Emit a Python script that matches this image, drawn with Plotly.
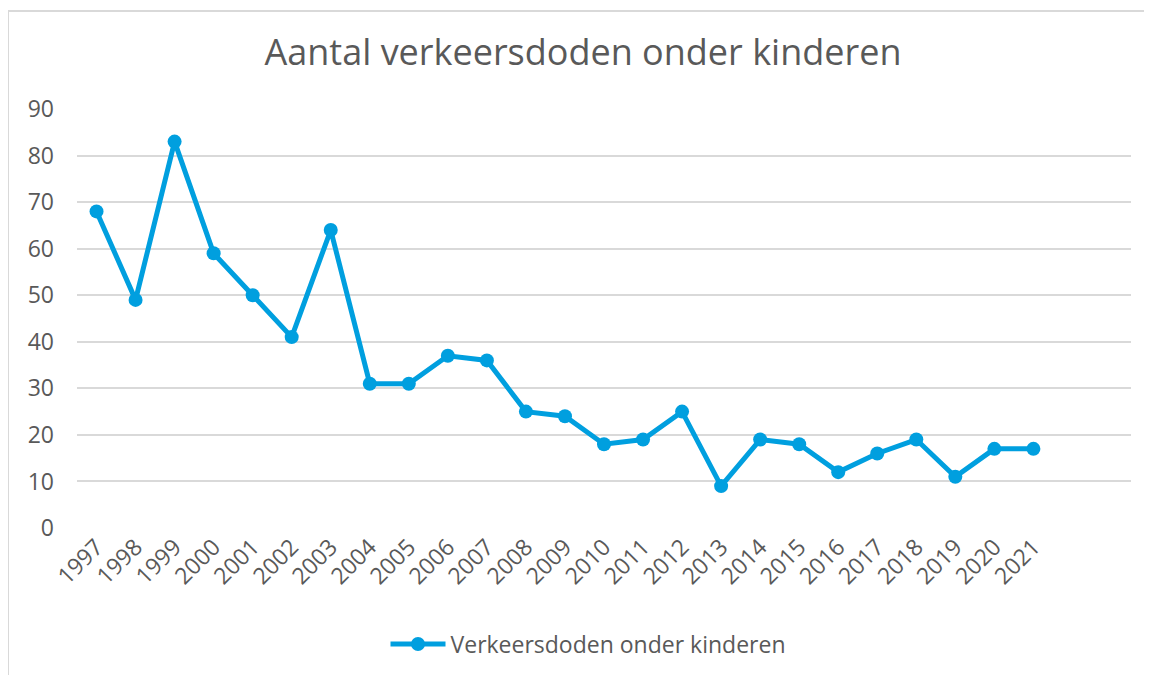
import plotly.graph_objects as go

years = ["1997", "1998", "1999", "2000", "2001", "2002", "2003", "2004", "2005", "2006",
         "2007", "2008", "2009", "2010", "2011", "2012", "2013", "2014", "2015", "2016",
         "2017", "2018", "2019", "2020", "2021"]
deaths = [68, 49, 83, 59, 50, 41, 64, 31, 31, 37, 36, 25, 24, 18, 19, 25, 9, 19, 18, 12,
          16, 19, 11, 17, 17]
y_ticks = [0, 10, 20, 30, 40, 50, 60, 70, 80, 90]

FONT = "Open Sans"
GREY = "#595959"
BLUE = "#009FDF"

xs = list(range(len(years)))

# page body has an 8px margin, so the figure is placed at (8, 8)
L, R, T, B = 69, 29, 101, 155
PW = 1152 - L - R
PH = 675 - T - B

fig = go.Figure()
fig.add_trace(go.Scatter(
    x=xs, y=deaths, mode="lines+markers", name="Verkeersdoden onder kinderen",
    line=dict(color=BLUE, width=5), marker=dict(color=BLUE, size=14),
))

fig.update_layout(
    width=1152, height=675,
    margin=dict(l=L, r=R, t=T, b=B),
    paper_bgcolor="white", plot_bgcolor="white",
    font=dict(family=FONT, color=GREY),
    title=dict(text="Aantal verkeersdoden onder kinderen", x=(583 - 8) / 1152, xanchor="center",
               y=1 - (52 - 8) / 675, yanchor="middle", font=dict(size=36, family=FONT, color=GREY)),
    showlegend=True,
    legend=dict(orientation="h", x=(588 - 8 - L) / PW, xanchor="center",
                y=-(644 - 8 - T - PH) / PH, yanchor="middle",
                font=dict(size=23, family=FONT, color=GREY), itemwidth=55),
    xaxis=dict(range=[-0.5, 26.5], tickvals=xs, ticktext=years, tickangle=-45,
               showgrid=False, showline=False, zeroline=False,
               tickfont=dict(size=23, family=FONT, color=GREY)),
    yaxis=dict(range=[0, 90], tickvals=y_ticks, showgrid=True, gridcolor="#d9d9d9",
               gridwidth=1.5, zeroline=False, showline=False, ticklabelstandoff=22,
               tickfont=dict(size=23, family=FONT, color=GREY)),
    shapes=[
        dict(type="line", xref="paper", yref="paper", x0=-L / PW, x1=-L / PW,
             y0=-B / PH, y1=(PH + T - 3) / PH, line=dict(color="#d9d9d9", width=2)),
        dict(type="line", xref="paper", yref="paper", x0=-L / PW, x1=(PW + R) / PW,
             y0=(PH + T - 3) / PH, y1=(PH + T - 3) / PH, line=dict(color="#d9d9d9", width=2)),
    ],
)

fig.write_html("out.html")
